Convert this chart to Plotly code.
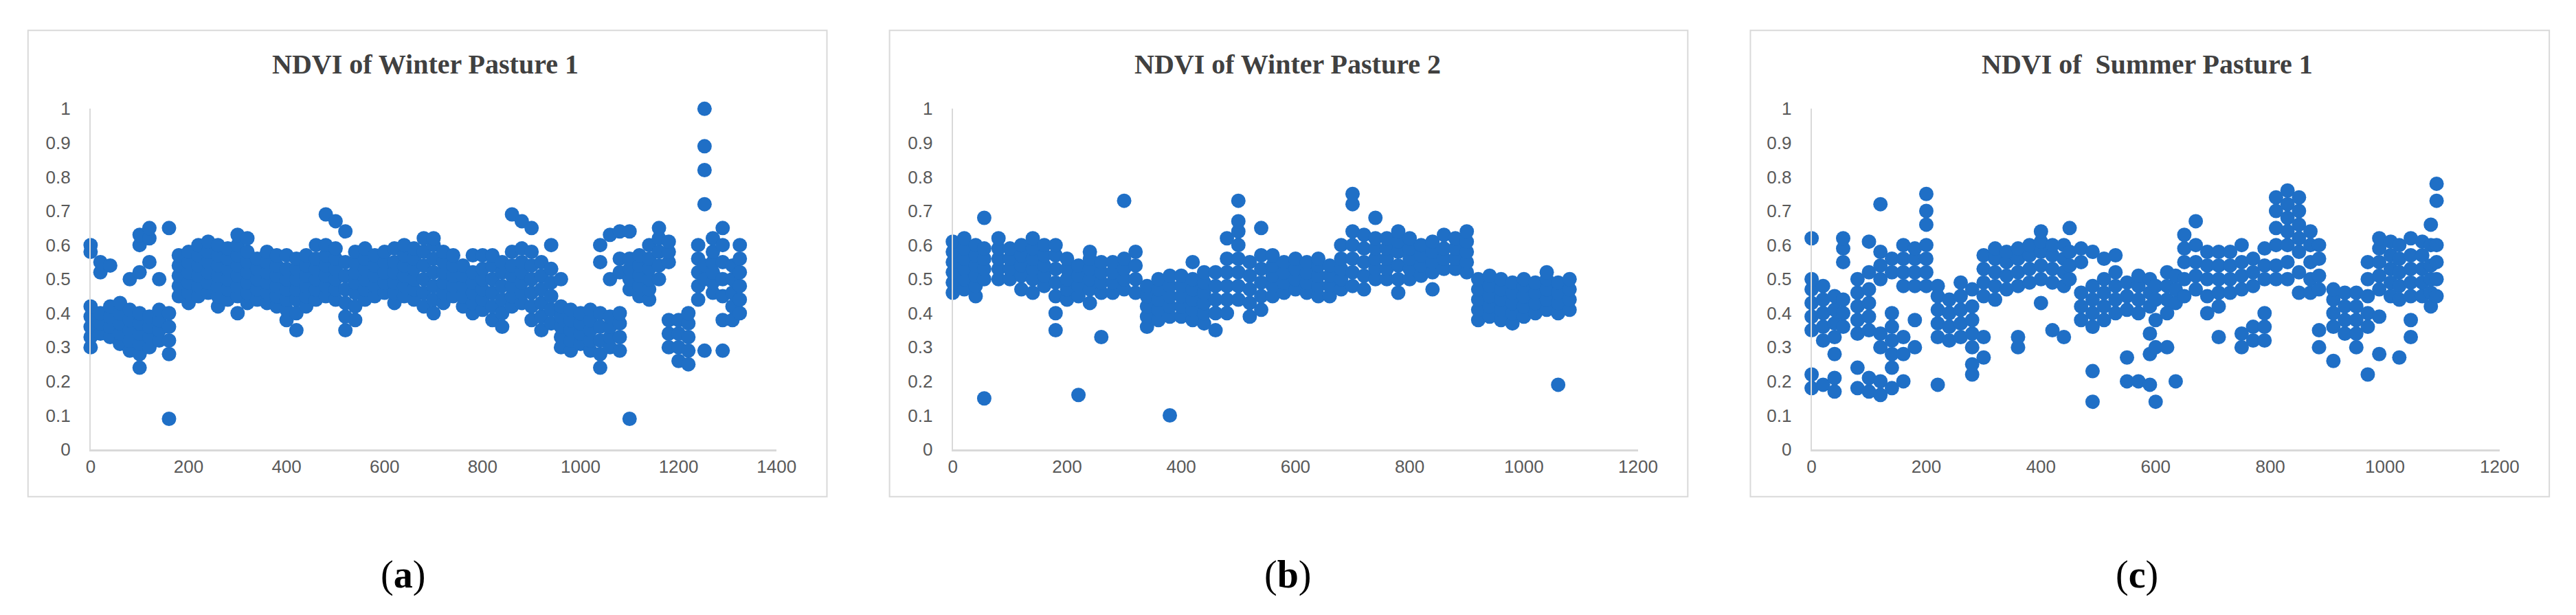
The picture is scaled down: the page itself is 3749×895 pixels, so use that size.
import plotly.graph_objects as go

W, H = 3749, 895

titles = ["NDVI of Winter Pasture 1", "NDVI of Winter Pasture 2", "NDVI of  Summer Pasture 1"]
labels = ["a", "b", "c"]
x_max = [1400, 1200, 1200]
y_ticks = [0, 0.1, 0.2, 0.3, 0.4, 0.5, 0.6, 0.7, 0.8, 0.9, 1]

a_x = [0,20,40,60,80,100,120,140,160,180,200,220,240,260,280,300,320,340,360,380,400,420,440,460,480,500,520,540,560,580,600,620,640,660,680,700,720,740,760,780,800,820,840,860,880,900,920,940,960,980,1000,1020,1040,1060,1080,1100,1120,1140,1160,1180,1200,1220,1240,1253,1270,1290,1310,1325]
a_y = [[0.30,0.33,0.36,0.39,0.42,0.58,0.60],[0.34,0.37,0.40,0.52,0.55],[0.33,0.36,0.39,0.42,0.54],[0.31,0.34,0.37,0.40,0.43],
[0.29,0.32,0.35,0.38,0.41,0.50],[0.24,0.28,0.31,0.34,0.37,0.40,0.52,0.60,0.63],[0.30,0.33,0.36,0.39,0.55,0.62,0.65],[0.32,0.35,0.38,0.41,0.50],
[0.09,0.28,0.32,0.36,0.40,0.65],[0.45,0.48,0.51,0.54,0.57],[0.43,0.46,0.49,0.52,0.55,0.58],[0.45,0.48,0.51,0.54,0.57,0.60],
[0.46,0.49,0.52,0.55,0.58,0.61],[0.42,0.45,0.48,0.51,0.54,0.57,0.60],[0.44,0.47,0.50,0.53,0.56,0.59],[0.40,0.45,0.48,0.51,0.54,0.57,0.60,0.63],
[0.43,0.46,0.49,0.52,0.55,0.58,0.62],[0.44,0.47,0.50,0.53,0.56],[0.43,0.46,0.49,0.52,0.55,0.58],[0.42,0.45,0.48,0.51,0.54,0.57],
[0.38,0.41,0.44,0.47,0.50,0.53,0.57],[0.35,0.40,0.44,0.47,0.50,0.53,0.56],[0.42,0.45,0.48,0.51,0.54,0.57],[0.44,0.47,0.50,0.53,0.56,0.60],
[0.45,0.48,0.51,0.54,0.57,0.60,0.69],[0.44,0.47,0.50,0.53,0.56,0.59,0.67],[0.35,0.39,0.43,0.47,0.51,0.55,0.64],[0.38,0.42,0.46,0.49,0.52,0.55,0.58],
[0.44,0.47,0.50,0.53,0.56,0.59],[0.45,0.48,0.51,0.54,0.57],[0.46,0.49,0.52,0.55,0.58],[0.43,0.46,0.49,0.52,0.55,0.59],
[0.45,0.48,0.51,0.54,0.57,0.60],[0.44,0.47,0.50,0.53,0.56,0.59],[0.42,0.46,0.50,0.54,0.58,0.62],[0.40,0.44,0.48,0.52,0.56,0.60,0.62],
[0.43,0.46,0.49,0.52,0.55,0.58],[0.45,0.48,0.51,0.54,0.57],[0.42,0.45,0.48,0.51,0.54],[0.40,0.43,0.46,0.49,0.52,0.57],
[0.41,0.44,0.47,0.50,0.53,0.57],[0.38,0.42,0.46,0.50,0.54,0.57],[0.36,0.40,0.44,0.48,0.52,0.55],[0.42,0.45,0.48,0.51,0.54,0.58,0.69],
[0.43,0.46,0.49,0.52,0.55,0.59,0.67],[0.38,0.42,0.46,0.50,0.54,0.58,0.65],[0.35,0.39,0.43,0.47,0.51,0.55],[0.37,0.41,0.45,0.49,0.53,0.60],
[0.30,0.33,0.36,0.39,0.42,0.50],[0.29,0.32,0.35,0.38,0.41],[0.31,0.34,0.37,0.40],[0.29,0.32,0.35,0.38,0.41],
[0.24,0.28,0.32,0.36,0.40,0.55,0.60],[0.30,0.33,0.36,0.39,0.50,0.63],[0.29,0.33,0.37,0.40,0.52,0.56,0.64],[0.09,0.47,0.50,0.53,0.56,0.64],
[0.45,0.48,0.51,0.54,0.57],[0.44,0.47,0.50,0.53,0.56,0.60],[0.50,0.54,0.58,0.62,0.65],[0.30,0.34,0.38,0.55,0.58,0.61],
[0.26,0.30,0.34,0.38],[0.25,0.29,0.33,0.37,0.40],[0.44,0.48,0.52,0.56,0.60],[0.29,0.50,0.54,0.72,0.82,0.89,1.00],
[0.46,0.49,0.52,0.55,0.58,0.62],[0.29,0.38,0.45,0.50,0.55,0.60,0.65],[0.38,0.42,0.46,0.50,0.54],[0.40,0.44,0.48,0.52,0.56,0.60]]

b_x = [0,20,40,55,80,100,120,140,160,180,200,220,240,260,280,300,320,340,360,380,400,420,440,460,480,500,520,540,560,580,600,620,640,660,680,700,720,740,760,780,800,820,840,860,880,900,920,940,960,980,1000,1020,1040,1060,1080]
b_y = [[0.46,0.49,0.52,0.55,0.58,0.61],[0.47,0.50,0.53,0.56,0.59,0.62],[0.45,0.48,0.51,0.54,0.57,0.60],[0.15,0.50,0.53,0.56,0.59,0.68],
[0.50,0.53,0.56,0.59,0.62],[0.50,0.53,0.56,0.59],[0.47,0.51,0.54,0.57,0.60],[0.46,0.50,0.53,0.56,0.59,0.62],
[0.48,0.51,0.54,0.57,0.60],[0.35,0.40,0.45,0.49,0.53,0.57,0.60],[0.44,0.47,0.50,0.53,0.56],[0.16,0.45,0.48,0.51,0.54],
[0.43,0.47,0.50,0.53,0.56,0.58],[0.33,0.46,0.49,0.52,0.55],[0.46,0.49,0.52,0.55],[0.47,0.50,0.53,0.56,0.73],
[0.46,0.50,0.54,0.58],[0.36,0.39,0.42,0.45,0.48],[0.38,0.41,0.44,0.47,0.50],[0.10,0.39,0.42,0.45,0.48,0.51],
[0.39,0.42,0.45,0.48,0.51],[0.38,0.41,0.44,0.47,0.50,0.55],[0.37,0.40,0.43,0.46,0.49,0.52],[0.35,0.40,0.44,0.48,0.52],
[0.40,0.44,0.48,0.52,0.56,0.62],[0.44,0.48,0.52,0.56,0.60,0.64,0.67,0.73],[0.39,0.43,0.47,0.51,0.55],[0.41,0.45,0.49,0.53,0.57,0.65],
[0.45,0.48,0.51,0.54,0.57],[0.46,0.49,0.52,0.55],[0.47,0.50,0.53,0.56],[0.46,0.49,0.52,0.55],
[0.45,0.48,0.51,0.54,0.56],[0.45,0.48,0.51,0.54],[0.47,0.50,0.53,0.56,0.60],[0.48,0.52,0.56,0.60,0.64,0.72,0.75],
[0.47,0.51,0.55,0.59,0.63],[0.50,0.53,0.56,0.59,0.62,0.68],[0.50,0.53,0.56,0.59,0.62],[0.46,0.50,0.54,0.58,0.61,0.64],
[0.50,0.53,0.56,0.59,0.62],[0.51,0.54,0.57,0.60],[0.47,0.52,0.55,0.58,0.61],[0.53,0.56,0.59,0.63],
[0.53,0.56,0.59,0.62],[0.52,0.55,0.58,0.61,0.64],[0.38,0.41,0.44,0.47,0.50],[0.39,0.42,0.45,0.48,0.51],
[0.38,0.41,0.44,0.47,0.50],[0.37,0.40,0.43,0.46,0.49],[0.39,0.42,0.45,0.48,0.50],[0.40,0.43,0.46,0.49],
[0.41,0.44,0.47,0.50,0.52],[0.19,0.40,0.43,0.46,0.49],[0.41,0.44,0.47,0.50]]

c_x = [0,20,40,55,80,100,120,140,160,180,200,220,240,260,280,300,320,340,360,380,400,420,440,450,470,490,510,530,550,570,590,600,620,635,650,670,690,710,730,750,770,790,810,830,850,870,885,910,930,950,970,990,1010,1025,1045,1065,1080,1090]
c_y = [[0.18,0.22,0.35,0.39,0.43,0.47,0.50,0.62],[0.19,0.32,0.36,0.40,0.44,0.48],[0.17,0.21,0.28,0.33,0.37,0.41,0.45],[0.36,0.40,0.44,0.55,0.59,0.62],
[0.18,0.24,0.34,0.38,0.42,0.46,0.50],[0.17,0.21,0.35,0.39,0.43,0.47,0.52,0.61],[0.16,0.20,0.30,0.34,0.50,0.54,0.58,0.72],[0.18,0.24,0.28,0.32,0.36,0.40,0.52,0.56],
[0.20,0.28,0.33,0.48,0.52,0.56,0.60],[0.30,0.38,0.48,0.52,0.56,0.59],[0.48,0.52,0.56,0.60,0.66,0.70,0.75],[0.19,0.33,0.37,0.41,0.45,0.48],
[0.32,0.36,0.40,0.44],[0.33,0.37,0.41,0.45,0.49],[0.22,0.25,0.30,0.34,0.38,0.42,0.47],[0.27,0.33,0.45,0.49,0.53,0.57],
[0.44,0.48,0.52,0.56,0.59],[0.47,0.51,0.55,0.58],[0.30,0.33,0.48,0.52,0.56,0.59],[0.49,0.53,0.57,0.60],
[0.43,0.50,0.54,0.58,0.61,0.64],[0.35,0.49,0.53,0.57,0.60],[0.33,0.48,0.52,0.56,0.60],[0.50,0.54,0.58,0.65],
[0.38,0.42,0.46,0.55,0.59],[0.14,0.23,0.36,0.40,0.44,0.48,0.58],[0.38,0.42,0.46,0.50,0.56],[0.40,0.44,0.48,0.52,0.57],
[0.20,0.27,0.41,0.45,0.49],[0.20,0.40,0.44,0.48,0.51],[0.19,0.28,0.34,0.42,0.46,0.50],[0.14,0.30,0.38,0.44,0.48],
[0.30,0.40,0.44,0.48,0.52],[0.20,0.43,0.47,0.51],[0.45,0.50,0.55,0.59,0.63],[0.47,0.51,0.55,0.60,0.67],
[0.40,0.45,0.50,0.54,0.58],[0.33,0.42,0.46,0.50,0.54,0.58],[0.46,0.50,0.54,0.58],[0.30,0.34,0.47,0.51,0.55,0.60],
[0.32,0.36,0.48,0.52,0.56],[0.32,0.36,0.40,0.50,0.54,0.59],[0.50,0.54,0.60,0.65,0.70,0.74],[0.50,0.55,0.60,0.64,0.68,0.72,0.76],
[0.46,0.52,0.58,0.62,0.66,0.70,0.74],[0.46,0.50,0.55,0.60,0.64],[0.30,0.35,0.47,0.51,0.56,0.60],[0.26,0.36,0.40,0.44,0.47],
[0.34,0.38,0.42,0.46],[0.30,0.34,0.38,0.42,0.46],[0.22,0.36,0.40,0.45,0.50,0.55],[0.28,0.39,0.47,0.51,0.55,0.59,0.62],
[0.45,0.49,0.53,0.57,0.61],[0.27,0.44,0.48,0.52,0.56,0.60],[0.33,0.38,0.45,0.49,0.53,0.57,0.62],[0.45,0.49,0.53,0.57,0.61],
[0.42,0.46,0.50,0.54,0.60,0.66],[0.45,0.50,0.55,0.60,0.73,0.78]]

series = [(a_x, a_y), (b_x, b_y), (c_x, c_y)]

# pixel layout
plot_x = [(118, 1126), (1385, 2392), (2647, 3658)]
frame_x = [(26, 1200), (1292, 2465), (2557, 3731)]
title_cx = [610, 1877, 3140]
label_cx = [577, 1877, 3125]
y0_px, y1_px = 653, 140
frame_top, frame_bot = 22, 724

BLUE = "#1F6FC6"
TICK = dict(family="Liberation Sans Narrow, Liberation Sans, Arial", size=26, color="#595959")

fig = go.Figure()
shapes, annotations = [], []
for i, (xs, ys) in enumerate(series):
    fx, fy = [], []
    for x, group in zip(xs, ys):
        for v in group:
            fx.append(x)
            fy.append(v)
    n = "" if i == 0 else str(i + 1)
    fig.add_trace(go.Scatter(x=fx, y=fy, mode="markers", xaxis="x" + n, yaxis="y" + n,
                             marker=dict(color=BLUE, size=21, line=dict(width=0)),
                             cliponaxis=False, showlegend=False))
    dom_x = [plot_x[i][0] / W, plot_x[i][1] / W]
    dom_y = [(H - y0_px) / H, (H - y1_px) / H]
    fig.layout["xaxis" + n] = dict(domain=dom_x, range=[0, x_max[i]], dtick=200, showgrid=False,
                                   zeroline=False, showline=True, linecolor="#D9D9D9", linewidth=3,
                                   ticks="", tickfont=TICK, ticklen=0, anchor="y" + n, fixedrange=True)
    fig.layout["yaxis" + n] = dict(domain=dom_y, range=[0, 1], tickvals=y_ticks,
                                   ticktext=[("%g" % t) for t in y_ticks], showgrid=False,
                                   zeroline=False, showline=True, linecolor="#D9D9D9", linewidth=2,
                                   ticks="outside", ticklen=22, tickcolor="rgba(0,0,0,0)",
                                   tickfont=TICK, anchor="x" + n, fixedrange=True)
    shapes.append(dict(type="rect", xref="paper", yref="paper",
                       x0=frame_x[i][0] / W, x1=frame_x[i][1] / W,
                       y0=(H - frame_bot) / H, y1=(H - frame_top) / H,
                       line=dict(color="#D9D9D9", width=2), fillcolor="rgba(0,0,0,0)", layer="below"))
    annotations.append(dict(text="<b>" + titles[i] + "</b>", xref="paper", yref="paper",
                            x=title_cx[i] / W, y=(H - 73) / H, showarrow=False,
                            xanchor="center", yanchor="middle",
                            font=dict(family="Liberation Serif, Times New Roman", size=40, color="#404040")))
    annotations.append(dict(text="(<b>" + labels[i] + "</b>)", xref="paper", yref="paper",
                            x=label_cx[i] / W, y=(H - 842) / H, showarrow=False,
                            xanchor="center", yanchor="middle",
                            font=dict(family="Liberation Serif, Times New Roman", size=56, color="black")))

fig.update_layout(width=W, height=H, margin=dict(l=0, r=0, t=0, b=0),
                  paper_bgcolor="white", plot_bgcolor="white",
                  shapes=shapes, annotations=annotations)
fig.write_html("out.html")
